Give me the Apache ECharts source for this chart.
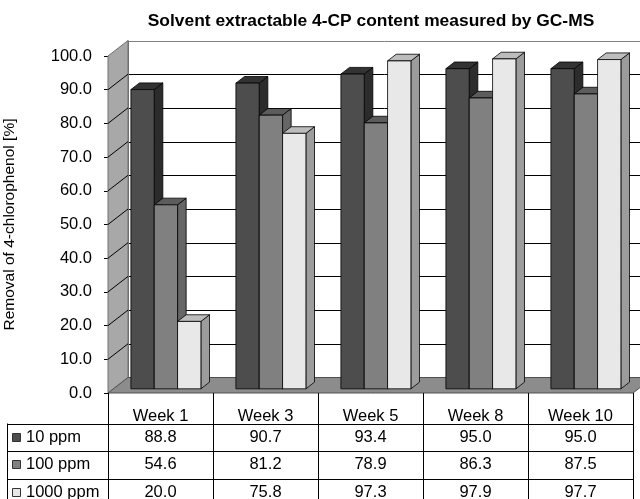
<!DOCTYPE html>
<html><head><meta charset="utf-8">
<script src="https://cdn.jsdelivr.net/npm/echarts@6/dist/echarts.min.js"></script>
<style>html,body{margin:0;padding:0;background:#fff}#c{width:640px;height:499px}</style>
</head><body><div id="c"></div>
<script>
// ---- data ----
const categories = ['Week 1', 'Week 3', 'Week 5', 'Week 8', 'Week 10'];
const seriesNames = ['10 ppm', '100 ppm', '1000 ppm'];
const ppm10 = [88.8, 90.7, 93.4, 95.0, 95.0];
const ppm100 = [54.6, 81.2, 78.9, 86.3, 87.5];
const ppm1000 = [20.0, 75.8, 97.3, 97.9, 97.7];
const yMin = 0, yMax = 100, yStep = 10;
const titleText = 'Solvent extractable 4-CP content measured by GC-MS';
const yTitle = 'Removal of 4-chlorophenol [%]';

// ---- style ----
const values = [ppm10, ppm100, ppm1000];
const FRONT = ['#4d4d4d', '#808080', '#e8e8e8'];
const TOP = ['#333333', '#5c5c5c', '#bcbcbc'];
const SIDE = ['#2c2c2c', '#666666', '#9c9c9c'];
const DX = 20, DY = -15.5;
const D0 = 0.27, D1 = 0.70;
const FONT = '"Liberation Sans", Arial, sans-serif';
const FS = 16.5;

function r5(v) { return Math.round(v) + 0.5; }

function wallsRender(params, api) {
  const cs = params.coordSys;
  const x0 = cs.x, x1 = cs.x + cs.width;
  const y0 = api.coord([0, yMin])[1];
  const yT = api.coord([0, yMax])[1];
  const ch = [];
  ch.push({ type: 'polygon', shape: { points: [[x0, y0], [x0, yT], [x0 + DX, yT + DY], [x0 + DX, y0 + DY]] },
    style: { fill: '#a8a8a8', stroke: '#707070', lineWidth: 1 } });
  ch.push({ type: 'rect', shape: { x: x0 + DX, y: yT + DY, width: x1 - x0 + 40, height: y0 - yT } ,
    style: { fill: '#ffffff', stroke: null } });
  for (let v = yMin + yStep; v < yMax; v += yStep) {
    const yv = api.coord([0, v])[1];
    ch.push({ type: 'line', shape: { x1: x0 + DX, y1: r5(yv + DY), x2: x1 + DX + 20, y2: r5(yv + DY) },
      style: { stroke: '#000', lineWidth: 1 } });
    ch.push({ type: 'line', shape: { x1: x0, y1: yv, x2: x0 + DX, y2: yv + DY },
      style: { stroke: '#000', lineWidth: 1 } });
  }
  ch.push({ type: 'line', shape: { x1: x0 + DX, y1: r5(yT + DY), x2: x1 + DX + 20, y2: r5(yT + DY) },
    style: { stroke: '#808080', lineWidth: 1 } });
  ch.push({ type: 'line', shape: { x1: r5(x0 + DX), y1: yT + DY, x2: r5(x0 + DX), y2: y0 + DY },
    style: { stroke: '#707070', lineWidth: 1 } });
  ch.push({ type: 'polygon', shape: { points: [[x0, y0], [x0 + DX, y0 + DY], [x1 + DX, y0 + DY], [x1, y0]] },
    style: { fill: '#8c8c8c', stroke: '#505050', lineWidth: 1 } });
  return { type: 'group', children: ch };
}

function barRender(si) {
  return function (params, api) {
    const c = api.value(0), v = api.value(1);
    const base = api.coord([c, 0]), top = api.coord([c, v]);
    const band = api.size([1, 0])[0];
    const bw = band * 2 / 9;
    const xl = base[0] + (si - 1) * bw - bw / 2 + D0 * DX;
    const xr = xl + bw;
    const yb = base[1] + D0 * DY, yt = top[1] + D0 * DY;
    const ddx = (D1 - D0) * DX, ddy = (D1 - D0) * DY;
    const st = { stroke: '#000', lineWidth: 0.8 };
    return { type: 'group', children: [
      { type: 'polygon', shape: { points: [[xr, yb], [xr, yt], [xr + ddx, yt + ddy], [xr + ddx, yb + ddy]] },
        style: Object.assign({ fill: SIDE[si] }, st) },
      { type: 'polygon', shape: { points: [[xl, yt], [xr, yt], [xr + ddx, yt + ddy], [xl + ddx, yt + ddy]] },
        style: Object.assign({ fill: TOP[si] }, st) },
      { type: 'rect', shape: { x: xl, y: yt, width: bw, height: yb - yt },
        style: Object.assign({ fill: FRONT[si] }, st) }
    ] };
  };
}

const ROW_H = 27.5, HEAD_H = 30.5, LEG_X = 7.5;
function tableRender(params, api) {
  const j = api.value(0);
  const p = api.coord([j, yMin]);
  const band = api.size([1, 0])[0];
  const xc = p[0], y0 = p[1];
  const L = xc - band / 2, R = xc + band / 2;
  const yEnd = y0 + HEAD_H + ROW_H * 3;
  const ch = [];
  const ln = (a, b, c, d) => ({ type: 'line', shape: { x1: a, y1: b, x2: c, y2: d }, style: { stroke: '#000', lineWidth: 1 } });
  ch.push(ln(r5(L), y0, r5(L), yEnd));
  ch.push(ln(r5(R), y0, r5(R), yEnd));
  for (let k = 0; k < 3; k++) {
    const yl = r5(y0 + HEAD_H + ROW_H * k);
    ch.push(ln(L, yl, R, yl));
  }
  ch.push({ type: 'text', style: { text: categories[j], x: xc, y: y0 + 23.5, align: 'center', verticalAlign: 'middle',
    font: FS + 'px ' + FONT, fill: '#000' } });
  for (let s = 0; s < 3; s++) {
    const yc = y0 + HEAD_H + ROW_H * s + ROW_H / 2;
    ch.push({ type: 'text', style: { text: values[s][j].toFixed(1), x: xc, y: yc, align: 'center', verticalAlign: 'middle',
      font: FS + 'px ' + FONT, fill: '#000' } });
  }
  if (j === 0) {
    ch.push(ln(LEG_X, y0 + HEAD_H, LEG_X, yEnd));
    for (let k = 0; k < 3; k++) {
      const yl = r5(y0 + HEAD_H + ROW_H * k);
      ch.push(ln(LEG_X, yl, L, yl));
      const yc = y0 + HEAD_H + ROW_H * k + ROW_H / 2;
      ch.push({ type: 'rect', shape: { x: 12.5, y: Math.round(yc - 4.5) + 0.5, width: 8, height: 8 },
        style: { fill: FRONT[k], stroke: '#333', lineWidth: 1 } });
      ch.push({ type: 'text', style: { text: seriesNames[k], x: 26, y: yc, align: 'left', verticalAlign: 'middle',
        font: FS + 'px ' + FONT, fill: '#000' } });
    }
  }
  return { type: 'group', children: ch };
}

const chart = echarts.init(document.getElementById('c'));
const series = [{ type: 'custom', name: 'walls', renderItem: wallsRender, data: [[0]], silent: true }];
for (let s = 0; s < 3; s++) {
  series.push({ type: 'custom', name: seriesNames[s], renderItem: barRender(s),
    data: values[s].map((v, j) => [j, v]) });
}
series.push({ type: 'custom', name: 'table', renderItem: tableRender, data: categories.map((c, j) => [j]), silent: true });

chart.setOption({
  animation: false,
  title: { text: titleText, left: 371, top: 13, padding: 0, textAlign: 'center',
    textStyle: { fontSize: 17.4, fontWeight: 'bold', fontFamily: FONT, color: '#000' } },
  grid: { left: 108, top: 56, width: 525, height: 337, containLabel: false, outerBoundsMode: 'none' },
  xAxis: { type: 'category', data: categories, axisLine: { show: false }, axisTick: { show: false },
    axisLabel: { show: false }, splitLine: { show: false } },
  yAxis: { type: 'value', min: yMin, max: yMax, interval: yStep,
    axisLine: { show: true, lineStyle: { color: '#000', width: 1 } },
    axisTick: { show: true, length: 4, lineStyle: { color: '#000' } },
    axisLabel: { formatter: v => v.toFixed(1), color: '#000', fontSize: FS, fontFamily: FONT, margin: 16 },
    splitLine: { show: false },
    name: yTitle, nameLocation: 'middle', nameGap: 90,
    nameTextStyle: { fontSize: 15.5, color: '#000', fontFamily: FONT } },
  series: series
});
</script></body></html>
